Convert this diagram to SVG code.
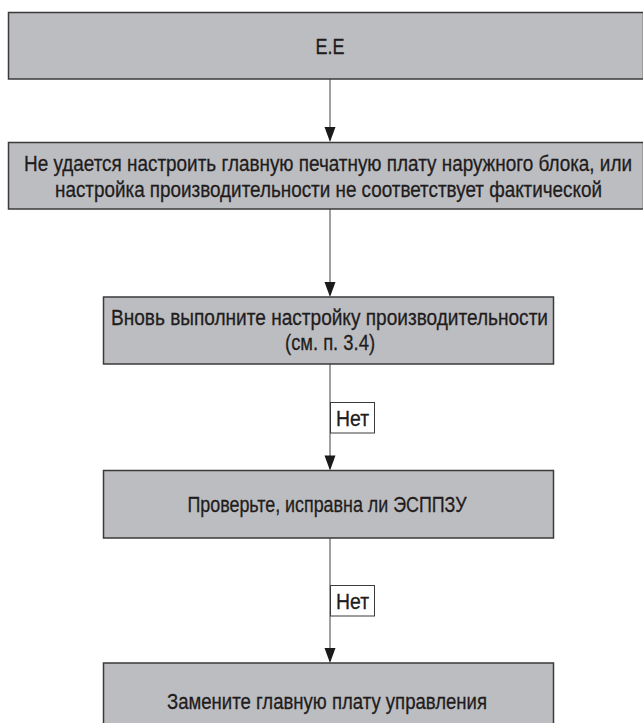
<svg xmlns="http://www.w3.org/2000/svg" width="643" height="723" viewBox="0 0 643 723">
<defs>
<style>
.box{fill:#bcbdc0;stroke:#3a3a3a;stroke-width:1.5}
.lbl{fill:#ffffff;stroke:#3a3a3a;stroke-width:1}
.t{font-family:"Liberation Sans Narrow","Liberation Sans",Arial,sans-serif;font-size:22px;fill:#1f1c1d;stroke:#1f1c1d;stroke-width:0.3;text-anchor:middle}
.c{stroke:#808080;stroke-width:1.5;fill:none}
.ah{fill:#1a1a1a}
</style>
</defs>
<rect width="643" height="723" fill="#ffffff"/>
<g id="connectors">
<line class="c" x1="330" y1="79" x2="330" y2="140"/>
<line class="c" x1="330" y1="209" x2="330" y2="295"/>
<line class="c" x1="330" y1="364" x2="330" y2="468.5"/>
<line class="c" x1="330" y1="538" x2="330" y2="661"/>
<path class="ah" d="M324.5,127 L335.5,127 L330,142 Z"/>
<path class="ah" d="M324.5,282 L335.5,282 L330,297 Z"/>
<path class="ah" d="M324.5,455.5 L335.5,455.5 L330,470.5 Z"/>
<path class="ah" d="M324.5,648 L335.5,648 L330,663 Z"/>
<g id="label1">
<rect class="lbl" x="330.5" y="402.5" width="44" height="30.5"/>
<text class="t" transform="translate(352.5,425.5) scale(0.8,1)" textLength="41.25" lengthAdjust="spacingAndGlyphs">Нет</text>
</g>
<g id="label2">
<rect class="lbl" x="330.5" y="585.5" width="44" height="30.5"/>
<text class="t" transform="translate(352.5,608.5) scale(0.8,1)" textLength="41.25" lengthAdjust="spacingAndGlyphs">Нет</text>
</g>
</g>
<g id="n1">
<rect class="box" x="8.5" y="12.5" width="635" height="66.5"/>
<text class="t" transform="translate(330,53.5) scale(0.8,1)" textLength="36.25" lengthAdjust="spacingAndGlyphs">E.E</text>
</g>
<g id="n2">
<rect class="box" x="8.5" y="142.5" width="635" height="66.5"/>
<text class="t" transform="translate(328,171) scale(0.8,1)" textLength="760" lengthAdjust="spacingAndGlyphs">Не удается настроить главную печатную плату наружного блока, или</text>
<text class="t" transform="translate(328.5,196.5) scale(0.8,1)" textLength="683.75" lengthAdjust="spacingAndGlyphs">настройка производительности не соответствует фактической</text>
</g>
<g id="n3">
<rect class="box" x="103.5" y="297" width="450" height="67"/>
<text class="t" transform="translate(329.5,325) scale(0.8,1)" textLength="546.25" lengthAdjust="spacingAndGlyphs">Вновь выполните настройку производительности</text>
<text class="t" transform="translate(330,350) scale(0.8,1)" textLength="112.5" lengthAdjust="spacingAndGlyphs">(см. п. 3.4)</text>
</g>
<g id="n4">
<rect class="box" x="103.5" y="470.5" width="450" height="67.5"/>
<text class="t" transform="translate(327,512) scale(0.8,1)" textLength="348.75" lengthAdjust="spacingAndGlyphs">Проверьте, исправна ли ЭСППЗУ</text>
</g>
<g id="n5">
<rect class="box" x="103.5" y="663" width="450" height="70"/>
<text class="t" transform="translate(327,709) scale(0.8,1)" textLength="400" lengthAdjust="spacingAndGlyphs">Замените главную плату управления</text>
</g>
</svg>
